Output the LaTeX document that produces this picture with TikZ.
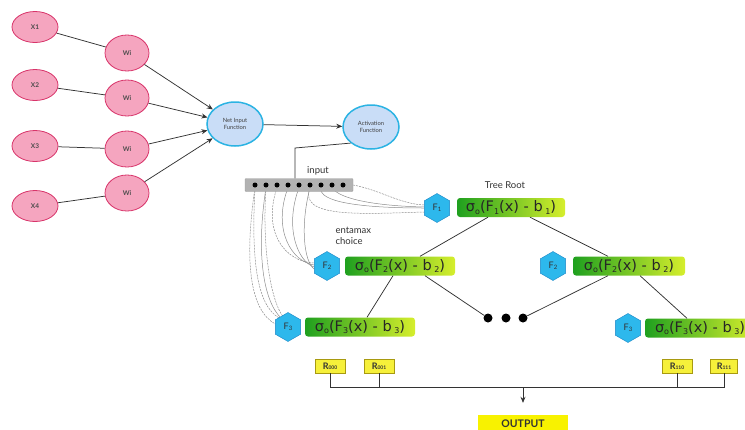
\documentclass[tikz,border=0pt]{standalone}
\usepackage{fontspec}
\setmainfont{Lato}
\newfontfamily\formfont{DejaVu Sans}
\usetikzlibrary{shapes.geometric,arrows.meta,calc,backgrounds}

\definecolor{pinkfill}{HTML}{F5A5BF}
\definecolor{pinkline}{HTML}{D8346A}
\definecolor{bluefill}{HTML}{C9DDF7}
\definecolor{blueline}{HTML}{2BB3E3}
\definecolor{hexfill}{HTML}{2DB8EC}
\definecolor{hexline}{HTML}{1B86C6}
\definecolor{gdark}{HTML}{1FA01F}
\definecolor{glight}{HTML}{D6EE2C}
\definecolor{ryellow}{HTML}{F6F03A}
\definecolor{rline}{HTML}{A89A10}
\definecolor{outyellow}{HTML}{F8F200}

% small lowered indices used inside the labels
\newcommand{\lowidx}[1]{\raisebox{-0.35ex}{\fontsize{8}{8}\selectfont #1}}
\newcommand{\hexidx}[1]{\raisebox{-0.25ex}{\fontsize{6}{6}\selectfont #1}}
\newcommand{\tinyidx}[1]{\raisebox{-0.1ex}{\fontsize{5}{5}\selectfont #1}}

\begin{document}
\begin{tikzpicture}[x=1pt,y=-1pt,
  inp/.style={ellipse, draw=pinkline, fill=pinkfill, line width=0.8pt,
    minimum width=46, minimum height=31, inner sep=0,
    font=\fontsize{6.5}{7}\selectfont\bfseries, text=black!70},
  wgt/.style={inp, minimum width=44, minimum height=36},
  fn/.style={ellipse, draw=blueline, fill=bluefill, line width=1.5pt,
    minimum width=56, minimum height=44, inner sep=0, align=center,
    font=\fontsize{5.8}{6.8}\selectfont, text=black!75},
  hexa/.style={regular polygon, regular polygon sides=6, shape border rotate=30,
    draw=hexline, fill=hexfill, minimum size=29, inner sep=0,
    font=\fontsize{9}{9}\selectfont, text=black!80},
  fbox/.style={rounded corners=3pt, left color=gdark, right color=glight,
    minimum width=108, minimum height=19, inner sep=0,
    font=\formfont\fontsize{14.5}{14.5}\selectfont, text=black!85},
  rbox/.style={draw=rline, fill=ryellow, minimum width=30, minimum height=14,
    inner sep=0, font=\fontsize{9}{9}\selectfont\bfseries, text=black!80},
  dotin/.style={circle, fill=black, minimum size=5, inner sep=0},
  bigdot/.style={circle, fill=black, minimum size=9, inner sep=0},
  lbl/.style={font=\fontsize{9.5}{10}\selectfont, text=black!80},
  edge/.style={line width=0.75pt, black!80},
  arr/.style={line width=0.75pt, black!80, -{Stealth[length=6pt,width=5pt]}},
  soft/.style={line width=0.5pt, gray!90},
  softd/.style={soft, dash pattern=on 2pt off 1pt}
]
\useasboundingbox (0,0) rectangle (745,429);

% perceptron part
\node[inp] (x1) at (35,27) {X1};
\node[inp] (x2) at (35,85) {X2};
\node[inp] (x3) at (35,146) {X3};
\node[inp] (x4) at (35,206) {X4};
\node[wgt] (w1) at (127,53) {Wi};
\node[wgt] (w2) at (127,98) {Wi};
\node[wgt] (w3) at (127,149) {Wi};
\node[wgt] (w4) at (127,193) {Wi};
\node[fn] (net) at (235,124) {Net Input\\Function};
\node[fn] (act) at (371,127) {Activation\\Function};

\foreach \i in {1,...,4} \draw[edge] (x\i) -- (w\i);
\foreach \i in {1,...,4} \draw[arr] (w\i) -- (net);
\draw[arr] (net) -- (act);

% input vector
\node[rectangle, rounded corners=1pt, fill=gray!60, draw=gray!75, minimum width=108,
  minimum height=13, inner sep=0] (bar) at (299,185) {};
\foreach \i in {1,...,9} \node[dotin] (d\i) at ({255+11*(\i-1)},185) {};
\node[lbl] (inlbl) at (318,171) {input};
\coordinate (bend) at (295,148);
\draw[edge] (act.south west) -- (bend) -- (bend |- bar.north);

% tree
\node[hexa] (f1) at (437,208) {F\hexidx{1}};
\node[fbox] (b1) at (511,207.5) {σ\lowidx{o}(F\lowidx{1}(x) - b\lowidx{ 1})};
\node[lbl] (root) at (505,185) {Tree Root};
\node[lbl, anchor=west, align=left, font=\fontsize{9.5}{11.5}\selectfont] (choice) at (332,236) {entamax\\choice};

\node[hexa] (f2l) at (327,266) {F\hexidx{2}};
\node[fbox, minimum width=110] (b2l) at (400,266) {σ\lowidx{o}(F\lowidx{2}(x) - b\lowidx{ 2})};
\node[hexa] (f2r) at (553,266) {F\hexidx{2}};
\node[fbox, minimum width=112] (b2r) at (629,266) {σ\lowidx{o}(F\lowidx{2}(x) - b\lowidx{ 2})};

\node[hexa] (f3l) at (288,327) {F\hexidx{3}};
\node[fbox, minimum width=110] (b3l) at (360,327) {σ\lowidx{o}(F\lowidx{3}(x) - b\lowidx{ 3})};
\node[hexa] (f3r) at (628,328) {F\hexidx{3}};
\node[fbox, minimum width=110] (b3r) at (700,328) {σ\lowidx{o}(F\lowidx{3}(x) - b\lowidx{ 3})};

\node[bigdot] (dA) at (488,318) {};
\node[bigdot] (dB) at (506,318) {};
\node[bigdot] (dC) at (523,318) {};

\draw[edge] ([xshift=-23]b1.south) -- ([xshift=20]b2l.north);
\draw[edge] ([xshift=19]b1.south) -- ([xshift=-21]b2r.north);
\draw[edge] ([xshift=-7]b2l.south) -- ([xshift=7]b3l.north);
\draw[edge] ([xshift=25]b2l.south) -- (dA);
\draw[edge] ([xshift=-21]b2r.south) -- (dC);
\draw[edge] ([xshift=11]b2r.south) -- ([xshift=-13]b3r.north);

% soft routing from the input vector to the split nodes
\begin{scope}[on background layer]
\draw[softd] (bar.east) .. controls (380,190) and (400,204) .. ([yshift=3]f1.west);
\draw[soft] (d7.south) .. controls (318,202) and (360,208) .. (f1.west);
\draw[softd] (d6.south) .. controls (298,218) and (360,214) .. ([yshift=-4]f1.west);
\draw[soft] (d8.south) .. controls (340,200) and (380,206) .. ([yshift=1]f1.west);

\draw[softd] (d3.south) .. controls (262,232) and (285,262) .. ([yshift=3]f2l.west);
\draw[soft] (d4.south) .. controls (272,230) and (292,262) .. ([yshift=1]f2l.west);
\draw[soft] (d5.south) .. controls (284,228) and (298,262) .. ([yshift=-1]f2l.west);
\draw[soft] (d6.south) .. controls (300,226) and (304,262) .. ([yshift=-3]f2l.west);

\draw[softd] (d1.south) .. controls (244,262) and (250,310) .. ([yshift=3]f3l.west);
\draw[softd] (d1.south) .. controls (251,260) and (257,305) .. (f3l.north west);
\draw[soft] (d2.south) .. controls (256,252) and (263,300) .. ([xshift=2]f3l.north west);
\draw[softd] (d2.south) .. controls (262,245) and (270,300) .. ([xshift=5]f3l.north west);
\end{scope}

% leaves and output
\node[rbox] (r0) at (330,366) {R\tinyidx{000}};
\node[rbox] (r1) at (379,366) {R\tinyidx{001}};
\node[rbox] (r6) at (677,366) {R\tinyidx{110}};
\node[rbox, minimum width=27] (r7) at (724,366) {R\tinyidx{111}};
\coordinate (bus) at (523,387);
\node[fill=outyellow, minimum width=90, minimum height=18, inner sep=0,
  font=\fontsize{10.5}{10.5}\selectfont\bfseries, text=black!80] (out) at (523,424) {OUTPUT};

\draw[edge] (r0.south) -- (r0.south |- bus) -- (r7.south |- bus) -- (r7.south);
\draw[edge] (r1.south) -- (r1.south |- bus);
\draw[edge] (r6.south) -- (r6.south |- bus);
\draw[arr, shorten >=12pt] (bus) -- (out.north);
\end{tikzpicture}
\end{document}
